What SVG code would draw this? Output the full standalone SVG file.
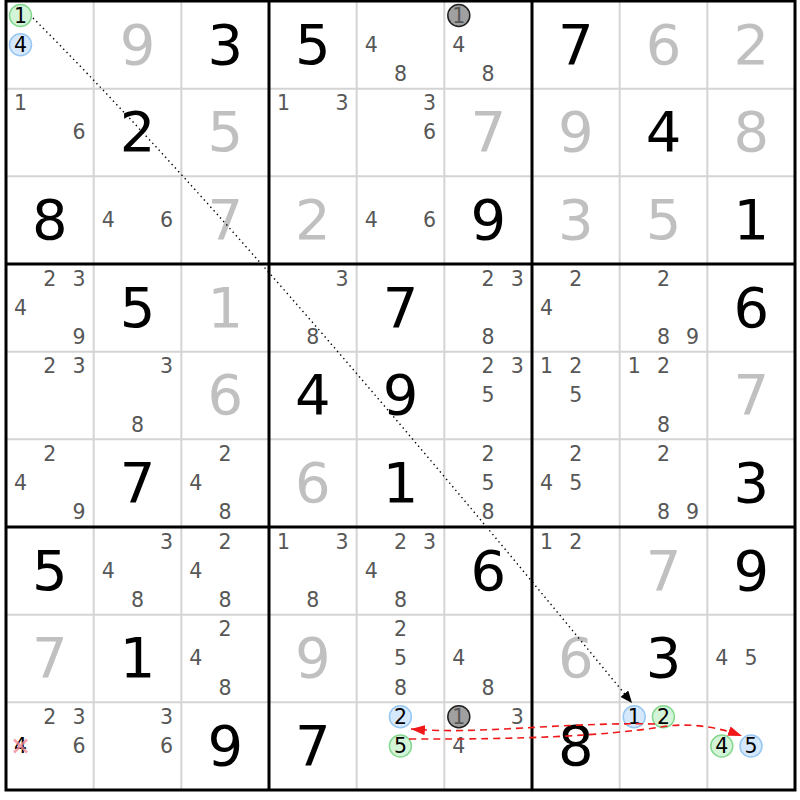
<svg xmlns="http://www.w3.org/2000/svg" width="800" height="800" viewBox="0 0 800 800">
<style>
text{font-family:"DejaVu Sans","Noto Sans",sans-serif;text-anchor:middle}
.g{font-size:56px;fill:#000}
.s{font-size:56px;fill:#c0c0c0}
.c{font-size:20.5px;fill:#575757}
.k{font-size:20.5px;fill:#000}
.kg{font-size:20.5px;fill:#575757}
.thin{stroke:#d4d4d4;stroke-width:2}
.thick{stroke:#000;stroke-width:3}
.cg{fill:#d4f4d8;stroke:#86d890;stroke-width:1.5}
.cb{fill:#d6e8fb;stroke:#96c6f2;stroke-width:1.5}
.cx{fill:#a0a0a0;stroke:#202020;stroke-width:1.5}
.dot{fill:none;stroke:#000;stroke-width:1.4;stroke-dasharray:1.4 3.4}
.red{fill:none;stroke:#f01818;stroke-width:1.6;stroke-dasharray:7 5}
</style>
<defs>
<marker id="ab" viewBox="0 0 12 10" refX="12" refY="5" markerWidth="12" markerHeight="10" markerUnits="userSpaceOnUse" orient="auto"><path d="M0,0 L12,5 L0,10 z" fill="#000"/></marker>
<marker id="ar" viewBox="0 0 14 10" refX="14" refY="5" markerWidth="14" markerHeight="10" markerUnits="userSpaceOnUse" orient="auto"><path d="M0,0 L14,5 L0,10 z" fill="#f01818"/></marker>
</defs>
<rect x="0" y="0" width="800" height="800" fill="#fff"/>
<g id="grid">
<line class="thin" x1="93.67" y1="1" x2="93.67" y2="790"/>
<line class="thin" x1="181.33" y1="1" x2="181.33" y2="790"/>
<line class="thin" x1="356.67" y1="1" x2="356.67" y2="790"/>
<line class="thin" x1="444.33" y1="1" x2="444.33" y2="790"/>
<line class="thin" x1="619.67" y1="1" x2="619.67" y2="790"/>
<line class="thin" x1="707.33" y1="1" x2="707.33" y2="790"/>
<line class="thin" x1="6" y1="88.67" x2="795" y2="88.67"/>
<line class="thin" x1="6" y1="176.33" x2="795" y2="176.33"/>
<line class="thin" x1="6" y1="351.67" x2="795" y2="351.67"/>
<line class="thin" x1="6" y1="439.33" x2="795" y2="439.33"/>
<line class="thin" x1="6" y1="614.67" x2="795" y2="614.67"/>
<line class="thin" x1="6" y1="702.33" x2="795" y2="702.33"/>
<line class="thick" x1="269" y1="1" x2="269" y2="790"/>
<line class="thick" x1="532" y1="1" x2="532" y2="790"/>
<line class="thick" x1="6" y1="264" x2="795" y2="264"/>
<line class="thick" x1="6" y1="527" x2="795" y2="527"/>
<rect class="thick" x="6" y="1" width="789" height="789" fill="none"/>
</g>
<!-- Row 1 -->
<g id="r1c1"><circle class="cg" cx="20.5" cy="15.5" r="11"/><text class="k" x="20.5" y="22.5">1</text><circle class="cb" cx="20.5" cy="44.7" r="11"/><text class="k" x="20.5" y="51.7">4</text></g>
<g id="r1c2"><text class="s" x="137.5" y="63.5">9</text></g>
<g id="r1c3"><text class="g" x="225.2" y="63.5">3</text></g>
<g id="r1c4"><text class="g" x="312.8" y="63.5">5</text></g>
<g id="r1c5"><text class="c" x="371.2" y="51.7">4</text><text class="c" x="400.4" y="80.9">8</text></g>
<g id="r1c6"><circle class="cx" cx="458.8" cy="15.5" r="11"/><text class="kg" x="458.8" y="22.5">1</text><text class="c" x="458.8" y="51.7">4</text><text class="c" x="488" y="80.9">8</text></g>
<g id="r1c7"><text class="g" x="575.8" y="63.5">7</text></g>
<g id="r1c8"><text class="s" x="663.5" y="63.5">6</text></g>
<g id="r1c9"><text class="s" x="751.2" y="63.5">2</text></g>
<!-- Row 2 -->
<g id="r2c1"><text class="c" x="20.5" y="110.2">1</text><text class="c" x="78.9" y="139.4">6</text></g>
<g id="r2c2"><text class="g" x="137.5" y="151.2">2</text></g>
<g id="r2c3"><text class="s" x="225.2" y="151.2">5</text></g>
<g id="r2c4"><text class="c" x="283.5" y="110.2">1</text><text class="c" x="341.9" y="110.2">3</text></g>
<g id="r2c5"><text class="c" x="429.6" y="110.2">3</text><text class="c" x="429.6" y="139.4">6</text></g>
<g id="r2c6"><text class="s" x="488.2" y="151.2">7</text></g>
<g id="r2c7"><text class="s" x="575.8" y="151.2">9</text></g>
<g id="r2c8"><text class="g" x="663.5" y="151.2">4</text></g>
<g id="r2c9"><text class="s" x="751.2" y="151.2">8</text></g>
<!-- Row 3 -->
<g id="r3c1"><text class="g" x="49.8" y="238.8">8</text></g>
<g id="r3c2"><text class="c" x="108.2" y="227">4</text><text class="c" x="166.6" y="227">6</text></g>
<g id="r3c3"><text class="s" x="225.2" y="238.8">7</text></g>
<g id="r3c4"><text class="s" x="312.8" y="238.8">2</text></g>
<g id="r3c5"><text class="c" x="371.2" y="227">4</text><text class="c" x="429.6" y="227">6</text></g>
<g id="r3c6"><text class="g" x="488.2" y="238.8">9</text></g>
<g id="r3c7"><text class="s" x="575.8" y="238.8">3</text></g>
<g id="r3c8"><text class="s" x="663.5" y="238.8">5</text></g>
<g id="r3c9"><text class="g" x="751.2" y="238.8">1</text></g>
<!-- Row 4 -->
<g id="r4c1"><text class="c" x="49.7" y="285.5">2</text><text class="c" x="78.9" y="285.5">3</text><text class="c" x="20.5" y="314.7">4</text><text class="c" x="78.9" y="343.9">9</text></g>
<g id="r4c2"><text class="g" x="137.5" y="326.5">5</text></g>
<g id="r4c3"><text class="s" x="225.2" y="326.5">1</text></g>
<g id="r4c4"><text class="c" x="341.9" y="285.5">3</text><text class="c" x="312.7" y="343.9">8</text></g>
<g id="r4c5"><text class="g" x="400.5" y="326.5">7</text></g>
<g id="r4c6"><text class="c" x="488" y="285.5">2</text><text class="c" x="517.2" y="285.5">3</text><text class="c" x="488" y="343.9">8</text></g>
<g id="r4c7"><text class="c" x="575.7" y="285.5">2</text><text class="c" x="546.5" y="314.7">4</text></g>
<g id="r4c8"><text class="c" x="663.4" y="285.5">2</text><text class="c" x="663.4" y="343.9">8</text><text class="c" x="692.6" y="343.9">9</text></g>
<g id="r4c9"><text class="g" x="751.2" y="326.5">6</text></g>
<!-- Row 5 -->
<g id="r5c1"><text class="c" x="49.7" y="373.2">2</text><text class="c" x="78.9" y="373.2">3</text></g>
<g id="r5c2"><text class="c" x="166.6" y="373.2">3</text><text class="c" x="137.4" y="431.6">8</text></g>
<g id="r5c3"><text class="s" x="225.2" y="414.2">6</text></g>
<g id="r5c4"><text class="g" x="312.8" y="414.2">4</text></g>
<g id="r5c5"><text class="g" x="400.5" y="414.2">9</text></g>
<g id="r5c6"><text class="c" x="488" y="373.2">2</text><text class="c" x="517.2" y="373.2">3</text><text class="c" x="488" y="402.4">5</text></g>
<g id="r5c7"><text class="c" x="546.5" y="373.2">1</text><text class="c" x="575.7" y="373.2">2</text><text class="c" x="575.7" y="402.4">5</text></g>
<g id="r5c8"><text class="c" x="634.2" y="373.2">1</text><text class="c" x="663.4" y="373.2">2</text><text class="c" x="663.4" y="431.6">8</text></g>
<g id="r5c9"><text class="s" x="751.2" y="414.2">7</text></g>
<!-- Row 6 -->
<g id="r6c1"><text class="c" x="49.7" y="460.8">2</text><text class="c" x="20.5" y="490">4</text><text class="c" x="78.9" y="519.2">9</text></g>
<g id="r6c2"><text class="g" x="137.5" y="501.8">7</text></g>
<g id="r6c3"><text class="c" x="225" y="460.8">2</text><text class="c" x="195.8" y="490">4</text><text class="c" x="225" y="519.2">8</text></g>
<g id="r6c4"><text class="s" x="312.8" y="501.8">6</text></g>
<g id="r6c5"><text class="g" x="400.5" y="501.8">1</text></g>
<g id="r6c6"><text class="c" x="488" y="460.8">2</text><text class="c" x="488" y="490">5</text><text class="c" x="488" y="519.2">8</text></g>
<g id="r6c7"><text class="c" x="575.7" y="460.8">2</text><text class="c" x="546.5" y="490">4</text><text class="c" x="575.7" y="490">5</text></g>
<g id="r6c8"><text class="c" x="663.4" y="460.8">2</text><text class="c" x="663.4" y="519.2">8</text><text class="c" x="692.6" y="519.2">9</text></g>
<g id="r6c9"><text class="g" x="751.2" y="501.8">3</text></g>
<!-- Row 7 -->
<g id="r7c1"><text class="g" x="49.8" y="589.5">5</text></g>
<g id="r7c2"><text class="c" x="166.6" y="548.5">3</text><text class="c" x="108.2" y="577.7">4</text><text class="c" x="137.4" y="606.9">8</text></g>
<g id="r7c3"><text class="c" x="225" y="548.5">2</text><text class="c" x="195.8" y="577.7">4</text><text class="c" x="225" y="606.9">8</text></g>
<g id="r7c4"><text class="c" x="283.5" y="548.5">1</text><text class="c" x="341.9" y="548.5">3</text><text class="c" x="312.7" y="606.9">8</text></g>
<g id="r7c5"><text class="c" x="400.4" y="548.5">2</text><text class="c" x="429.6" y="548.5">3</text><text class="c" x="371.2" y="577.7">4</text><text class="c" x="400.4" y="606.9">8</text></g>
<g id="r7c6"><text class="g" x="488.2" y="589.5">6</text></g>
<g id="r7c7"><text class="c" x="546.5" y="548.5">1</text><text class="c" x="575.7" y="548.5">2</text></g>
<g id="r7c8"><text class="s" x="663.5" y="589.5">7</text></g>
<g id="r7c9"><text class="g" x="751.2" y="589.5">9</text></g>
<!-- Row 8 -->
<g id="r8c1"><text class="s" x="49.8" y="677.2">7</text></g>
<g id="r8c2"><text class="g" x="137.5" y="677.2">1</text></g>
<g id="r8c3"><text class="c" x="225" y="636.2">2</text><text class="c" x="195.8" y="665.4">4</text><text class="c" x="225" y="694.6">8</text></g>
<g id="r8c4"><text class="s" x="312.8" y="677.2">9</text></g>
<g id="r8c5"><text class="c" x="400.4" y="636.2">2</text><text class="c" x="400.4" y="665.4">5</text><text class="c" x="400.4" y="694.6">8</text></g>
<g id="r8c6"><text class="c" x="458.8" y="665.4">4</text><text class="c" x="488" y="694.6">8</text></g>
<g id="r8c7"><text class="s" x="575.8" y="677.2">6</text></g>
<g id="r8c8"><text class="g" x="663.5" y="677.2">3</text></g>
<g id="r8c9"><text class="c" x="721.8" y="665.4">4</text><text class="c" x="751" y="665.4">5</text></g>
<!-- Row 9 -->
<g id="r9c1"><text class="c" x="49.7" y="723.8">2</text><text class="c" x="78.9" y="723.8">3</text><text class="k" x="20.5" y="753">4</text><path d="M14,739.5 L27,752.5 M27,739.5 L14,752.5" stroke="#f48a98" stroke-width="2.5" opacity="0.8"/><text class="c" x="78.9" y="753">6</text></g>
<g id="r9c2"><text class="c" x="166.6" y="723.8">3</text><text class="c" x="166.6" y="753">6</text></g>
<g id="r9c3"><text class="g" x="225.2" y="764.8">9</text></g>
<g id="r9c4"><text class="g" x="312.8" y="764.8">7</text></g>
<g id="r9c5"><circle class="cb" cx="400.4" cy="716.8" r="11"/><text class="k" x="400.4" y="723.8">2</text><circle class="cg" cx="400.4" cy="746" r="11"/><text class="k" x="400.4" y="753">5</text></g>
<g id="r9c6"><circle class="cx" cx="458.8" cy="716.8" r="11"/><text class="kg" x="458.8" y="723.8">1</text><text class="c" x="517.2" y="723.8">3</text><text class="c" x="458.8" y="753">4</text></g>
<g id="r9c7"><text class="g" x="575.8" y="764.8">8</text></g>
<g id="r9c8"><circle class="cb" cx="634.2" cy="716.8" r="11"/><text class="k" x="634.2" y="723.8">1</text><circle class="cg" cx="663.4" cy="716.8" r="11"/><text class="k" x="663.4" y="723.8">2</text></g>
<g id="r9c9"><circle class="cg" cx="721.8" cy="746" r="11"/><text class="k" x="721.8" y="753">4</text><circle class="cb" cx="751" cy="746" r="11"/><text class="k" x="751" y="753">5</text></g>
<g id="connectors">
<path class="dot" d="M33,18 Q246,231 632,703" marker-end="url(#ab)"/>
<path class="red" d="M655,724 C560,722 480,735 411,729" marker-end="url(#ar)"/>
<path class="red" d="M409,739 Q580,740 660,727 Q700,720.5 742,736" marker-end="url(#ar)"/>
</g>
</svg>
